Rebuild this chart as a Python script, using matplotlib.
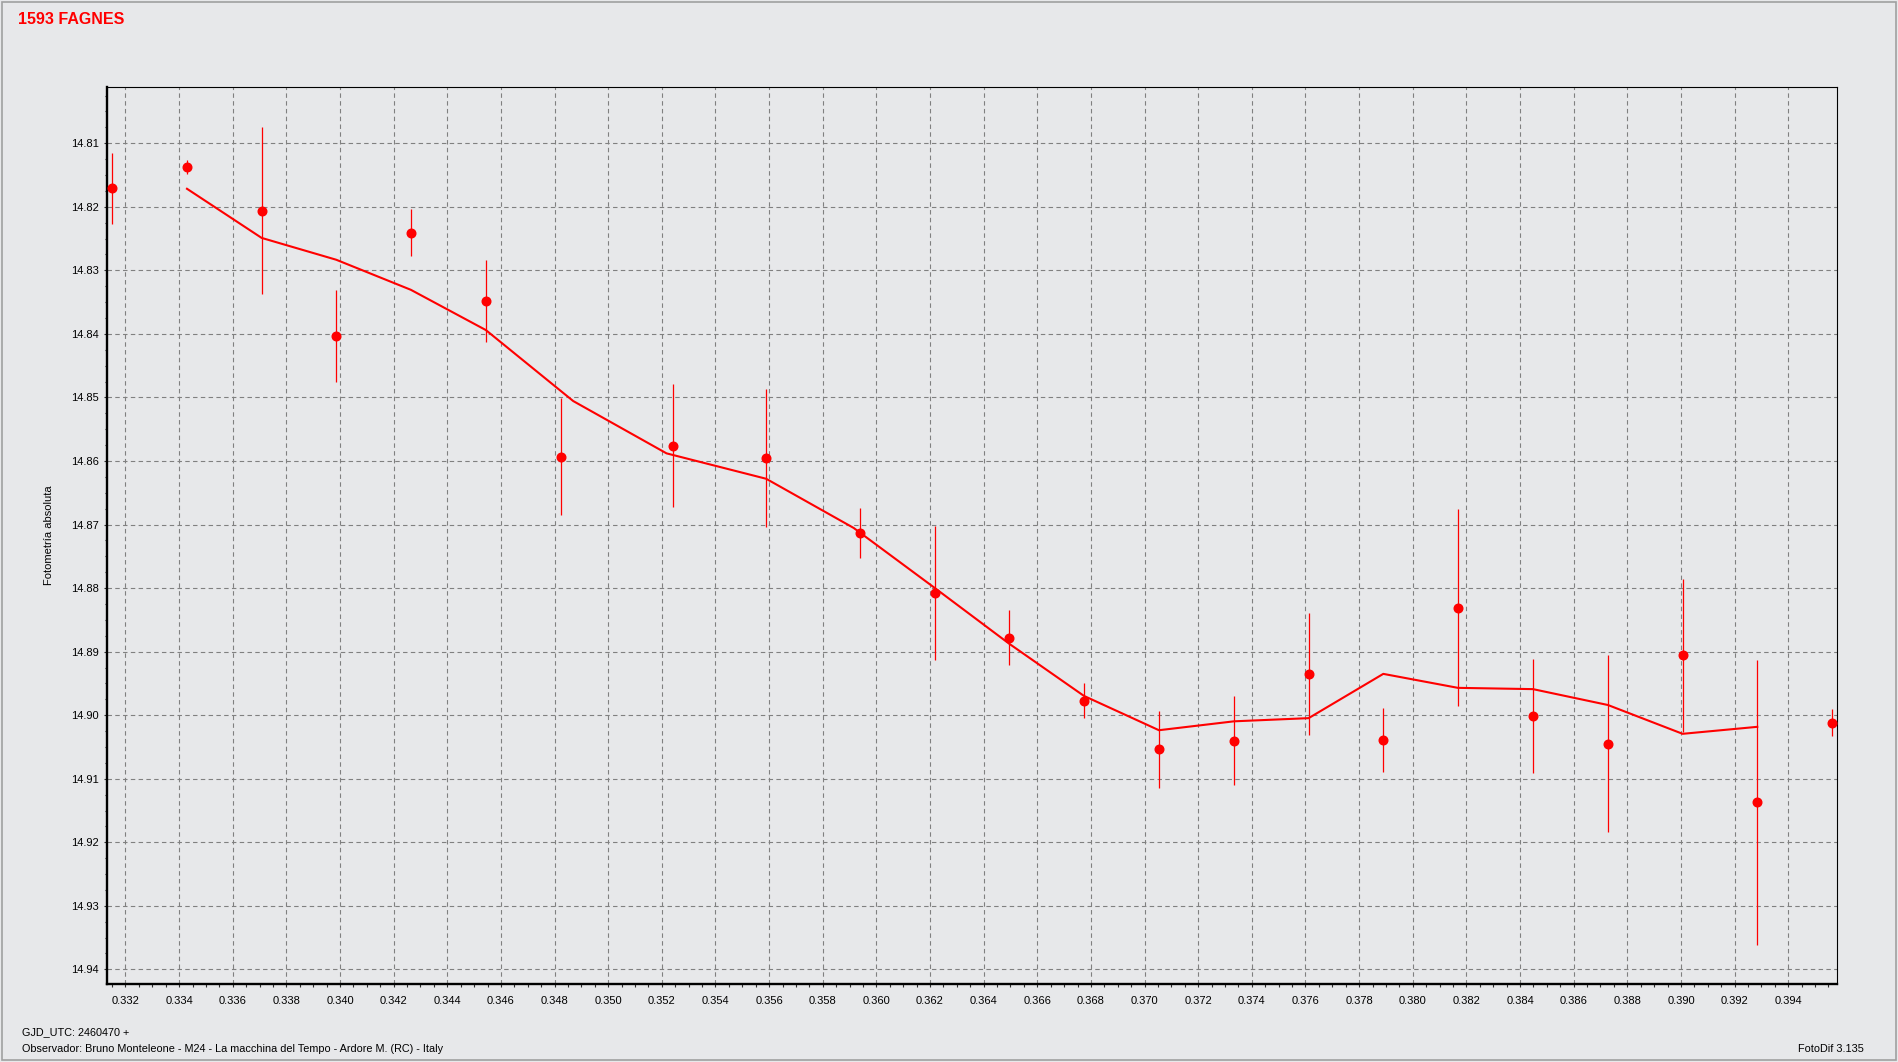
import numpy as np
import matplotlib
matplotlib.use("Agg")
import matplotlib.pyplot as plt
from matplotlib.patches import Rectangle
from matplotlib.ticker import MultipleLocator, FormatStrFormatter

# ---- data ----
title = "1593 FAGNES"
ylabel = "Fotometría absoluta"
gjd_text = "GJD_UTC: 2460470 +"
obs_text = "Observador: Bruno Monteleone - M24 - La macchina del Tempo - Ardore M. (RC) - Italy"
soft_text = "FotoDif 3.135"

jd = [0.331497, 0.334293, 0.337090, 0.339849, 0.342634, 0.345442, 0.348238,
      0.352403, 0.355882, 0.359387, 0.362184, 0.364943, 0.367740, 0.370536,
      0.373333, 0.376129, 0.378888, 0.381685, 0.384481, 0.387278, 0.390074,
      0.392834, 0.395630]
mag = [14.8171, 14.8138, 14.8206, 14.8403, 14.8241, 14.8348, 14.8593,
       14.8576, 14.8595, 14.8713, 14.8808, 14.8878, 14.8977, 14.9054,
       14.9040, 14.8935, 14.9039, 14.8831, 14.9001, 14.9045, 14.8906,
       14.9137, 14.9012]
err = [0.0056, 0.0011, 0.0131, 0.0072, 0.0037, 0.0065, 0.0092,
       0.0097, 0.0109, 0.0039, 0.0105, 0.0043, 0.0028, 0.0061,
       0.0070, 0.0096, 0.0050, 0.0155, 0.0090, 0.0139, 0.0121,
       0.0224, 0.0021]

jd_a = np.array(jd)
mag_a = np.array(mag)
err_a = np.array(err)
# 3-point running mean (trend line)
k = np.ones(3) / 3
jd_s = np.convolve(jd_a, k, mode="valid")
mag_s = np.convolve(mag_a, k, mode="valid")

BG = "#E7E8EA"
RED = "#FF0000"
FONT = "Liberation Sans"

W, H = 1898, 1062
fig = plt.figure(figsize=(W / 100, H / 100), dpi=100, facecolor=BG)
ax = fig.add_axes([106.7 / W, 1 - 984 / H, (1837.3 - 106.7) / W, (984 - 87.3) / H])
ax.set_facecolor(BG)

ax.errorbar(jd_a, mag_a, yerr=err_a, fmt="o", color=RED, ecolor=RED,
            elinewidth=0.9, capsize=0, markersize=6.2, zorder=3)
ax.plot(jd_s, mag_s, color=RED, lw=1.5, zorder=2)

ax.set_xlim(0.33130, 0.39583)
ax.set_ylim(14.9423, 14.8012)

ax.xaxis.set_major_locator(MultipleLocator(0.002))
ax.xaxis.set_minor_locator(MultipleLocator(0.0005))
ax.yaxis.set_major_locator(MultipleLocator(0.01))
ax.yaxis.set_minor_locator(MultipleLocator(0.0025))
ax.xaxis.set_major_formatter(FormatStrFormatter("%.3f"))
ax.yaxis.set_major_formatter(FormatStrFormatter("%.2f"))

ax.grid(True, which="major", color="#808080", linestyle=(0, (4, 3)), linewidth=0.8)
ax.set_axisbelow(True)

for s in ["left", "bottom"]:
    ax.spines[s].set_linewidth(1.7)
for s in ["top", "right"]:
    ax.spines[s].set_linewidth(0.8)

ax.tick_params(axis="both", which="major", direction="out", length=2.5, width=0.8,
               labelsize=8, color="#303030")
ax.tick_params(axis="both", which="minor", direction="out", length=1.8, width=0.8,
               color="#303030")
ax.tick_params(axis="x", which="major", pad=6)
ax.tick_params(axis="y", which="major", pad=3)
for lab in ax.get_xticklabels() + ax.get_yticklabels():
    lab.set_fontfamily(FONT)

ax.set_ylabel(ylabel, fontsize=8, fontfamily=FONT, labelpad=0)
ax.yaxis.set_label_coords(54 / W, 1 - 535.6 / H, transform=fig.transFigure)

fig.text(18 / W, 1 - 19 / H, title, color=RED, fontsize=11.5, fontweight="bold",
         fontfamily=FONT, ha="left", va="center")
fig.text(22 / W, 1 - 1032.5 / H, gjd_text, fontsize=7.8, fontfamily=FONT,
         ha="left", va="center")
fig.text(22 / W, 1 - 1049.5 / H, obs_text, fontsize=7.8, fontfamily=FONT,
         ha="left", va="center")
fig.text(1864 / W, 1 - 1049.5 / H, soft_text, fontsize=7.8, fontfamily=FONT,
         ha="right", va="center")

fig.patches.append(Rectangle((1.5 / W, 2.5 / H), (W - 4) / W, (H - 4) / H,
                             transform=fig.transFigure, fill=False,
                             edgecolor="#A0A0A0", linewidth=1.2))

fig.savefig("out.png", dpi=100, facecolor=BG)
